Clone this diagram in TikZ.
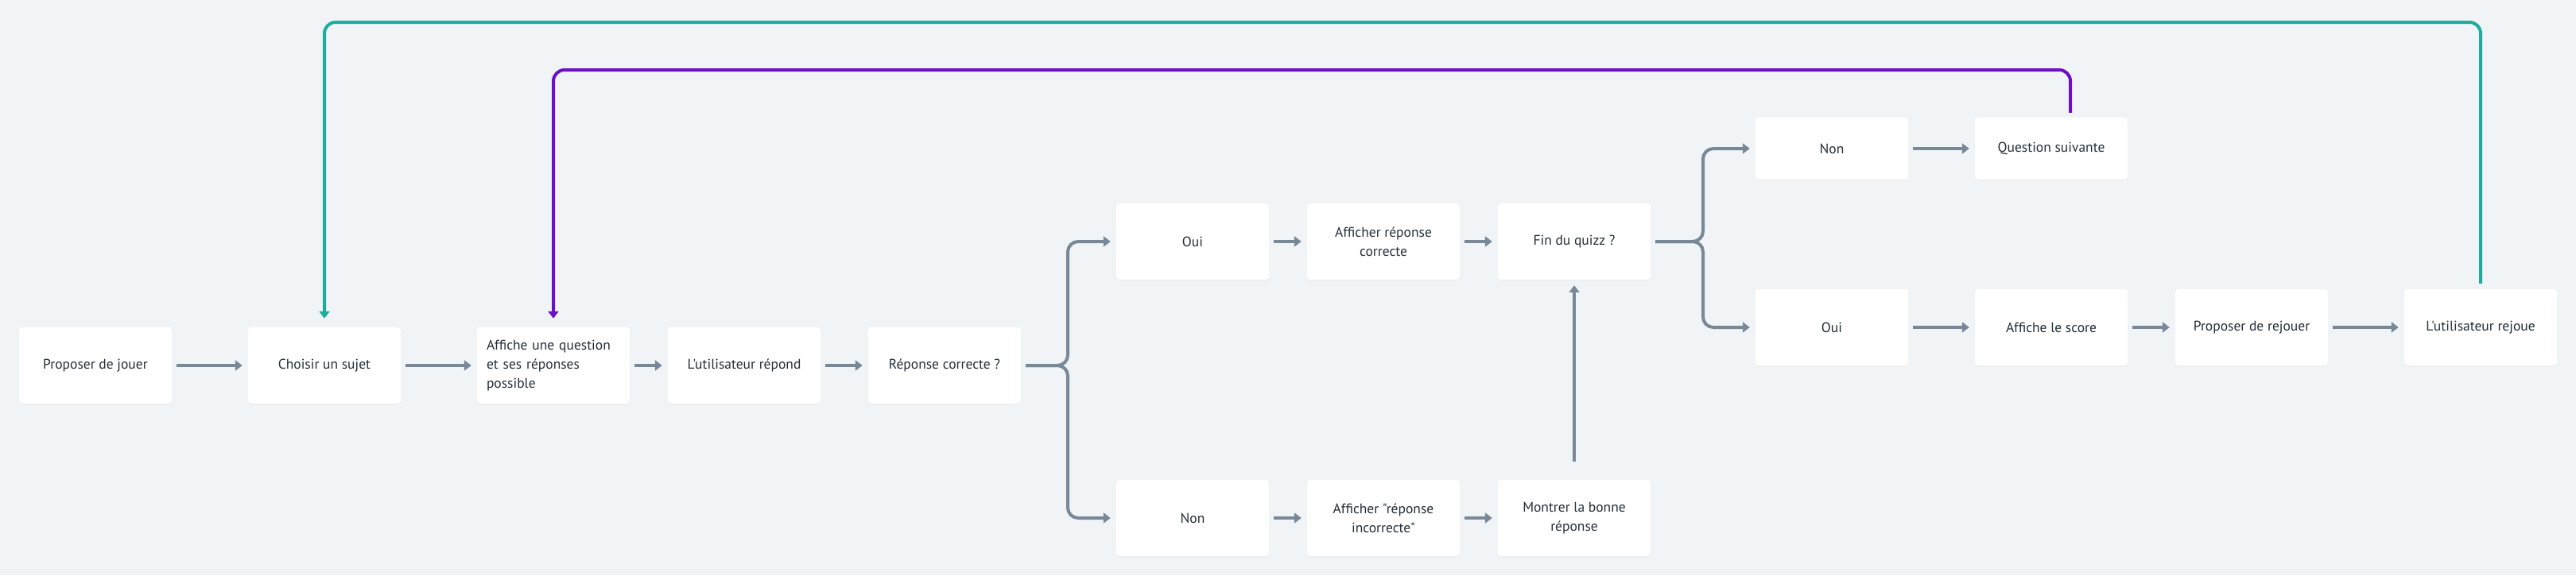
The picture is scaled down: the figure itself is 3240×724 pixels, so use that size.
\documentclass[tikz,border=0pt]{standalone}
\usepackage{fontspec}
\newfontfamily\boxff{PT Sans}
\usetikzlibrary{arrows.meta,shadows}
\definecolor{bg}{HTML}{F0F4F7}
\definecolor{conngrey}{HTML}{798896}
\definecolor{loopteal}{HTML}{1EAD9C}
\definecolor{looppurple}{HTML}{6C0FC6}
\definecolor{txt}{HTML}{232D38}
\tikzset{
  box/.style={rectangle, rounded corners=4pt, fill=white, minimum width=192pt,
    minimum height=96pt, inner sep=0pt, align=center, text=txt,
    font=\boxff\fontsize{17.5}{24}\selectfont,
    drop shadow={shadow xshift=0pt, shadow yshift=-1.5pt, opacity=0.06}},
  conn/.style={draw=conngrey, line width=4pt, -{Triangle[length=9pt,width=13pt]},
    shorten <=6pt, shorten >=7pt},
  loopt/.style={draw=loopteal, line width=4pt, rounded corners=14pt,
    -{Triangle[length=9pt,width=13pt]}, shorten <=7pt, shorten >=11pt},
  loopp/.style={draw=looppurple, line width=4pt, rounded corners=14pt,
    -{Triangle[length=9pt,width=13pt]}, shorten <=0pt, shorten >=11pt},
}
\begin{document}
\begin{tikzpicture}[x=1pt,y=-1pt]
\fill[bg] (0,0) rectangle (3240,724);
\useasboundingbox (0,0) rectangle (3240,724);

\node[box] (b1) at (120,460) {Proposer de jouer};
\node[box] (b2) at (408,460) {Choisir un sujet};
\node[box, text width=168pt, align=left] (b3) at (696,460) {Affiche une question\\et ses réponses\\possible};
\node[box] (b4) at (936,460) {L'utilisateur répond};
\node[box] (b5) at (1188,460) {Réponse correcte ?};
\node[box] (oui1) at (1500,304) {Oui};
\node[box] (aff1) at (1740,304) {Afficher réponse\\correcte};
\node[box] (fin) at (1980,304) {Fin du quizz ?};
\node[box] (non1) at (1500,652) {Non};
\node[box] (aff2) at (1740,652) {Afficher "réponse\\incorrecte"};
\node[box] (mon) at (1980,652) {Montrer la bonne\\réponse};
\node[box, minimum height=78pt] (non2) at (2304,187) {Non};
\node[box, minimum height=78pt] (qs) at (2580,187) {Question suivante};
\node[box] (oui2) at (2304,412) {Oui};
\node[box] (score) at (2580,412) {Affiche le score};
\node[box] (prop) at (2832,412) {Proposer de rejouer};
\node[box] (rej) at (3120,412) {L'utilisateur rejoue};

\draw[conn] (b1) -- (b2);
\draw[conn] (b2) -- (b3);
\draw[conn] (b3) -- (b4);
\draw[conn] (b4) -- (b5);
\draw[conn] (oui1) -- (aff1);
\draw[conn] (aff1) -- (fin);
\draw[conn] (non1) -- (aff2);
\draw[conn] (aff2) -- (mon);
\draw[conn, shorten <=23pt] (mon) -- (fin);
\draw[conn] (non2) -- (qs);
\draw[conn] (oui2) -- (score);
\draw[conn] (score) -- (prop);
\draw[conn] (prop) -- (rej);

\coordinate (j1) at (1343,460);
\draw[conn, rounded corners=13pt] (b5.east) -- (j1) |- (oui1.west);
\draw[conn, rounded corners=13pt] (b5.east) -- (j1) |- (non1.west);
\coordinate (j2) at (2142,304);
\draw[conn, rounded corners=13pt] (fin.east) -- (j2) |- (non2.west);
\draw[conn, rounded corners=13pt] (fin.east) -- (j2) |- (oui2.west);

\coordinate (ttop) at (0,28);
\draw[loopt] (rej.north) -- (rej.north |- ttop) -- (b2.north |- ttop) -- (b2.north);

\coordinate (ptop) at (0,88);
\coordinate (ps) at ([xshift=24pt,yshift=6pt]qs.north);
\draw[loopp] (ps) -- (ps |- ptop) -- (b3.north |- ptop) -- (b3.north);
\end{tikzpicture}
\end{document}
